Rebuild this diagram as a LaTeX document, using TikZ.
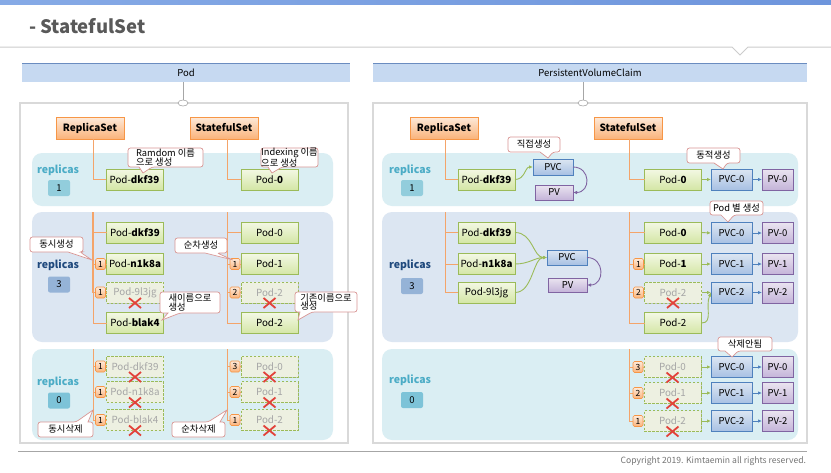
\documentclass[tikz,border=0pt]{standalone}
\usepackage{fontspec}
\setmainfont{Noto Sans CJK KR}
\usetikzlibrary{arrows.meta,shadows,shapes.geometric}
\definecolor{orBd}{HTML}{F79646}
\definecolor{orTop}{HTML}{FDE9D9}
\definecolor{orBot}{HTML}{FAB37A}
\definecolor{grBd}{HTML}{9BBB59}
\definecolor{grTop}{HTML}{F3F8E4}
\definecolor{grBot}{HTML}{D4E6A5}
\definecolor{deadF}{HTML}{EDF0E1}
\definecolor{deadT}{HTML}{A6A6A6}
\definecolor{blBd}{HTML}{4F81BD}
\definecolor{blTop}{HTML}{DCE6F2}
\definecolor{blBot}{HTML}{A7C0E3}
\definecolor{puBd}{HTML}{8064A2}
\definecolor{puTop}{HTML}{EAE4F0}
\definecolor{puBot}{HTML}{C4B4D9}
\definecolor{bandC}{HTML}{DAEEF3}
\definecolor{bandG}{HTML}{DCE6F2}
\definecolor{hdr}{HTML}{C6D9F1}
\definecolor{hdrLine}{HTML}{6A8CC0}
\definecolor{tealC}{HTML}{4BACC6}
\definecolor{navyC}{HTML}{1F497D}
\definecolor{treeC}{HTML}{F4A46A}
\definecolor{callBd}{HTML}{D99694}
\definecolor{xred}{HTML}{E2423A}
\definecolor{panelBd}{HTML}{D9D9D9}
\definecolor{titleC}{HTML}{595959}
\definecolor{cntA}{HTML}{92CDDC}
\definecolor{cntB}{HTML}{95B3D7}
\definecolor{cntC}{HTML}{7DC3D8}
\definecolor{barA}{HTML}{86AAE6}
\definecolor{barB}{HTML}{3D6FD0}
\definecolor{barC}{HTML}{6E95DC}
\newcommand\myfs[2]{\fontsize{#1}{#2}\selectfont}
\newcommand\calB[9]{%
  \filldraw[callout, rounded corners=2.5pt] (#2,#3) -- (#4,#3) -- (#4,#5) -- (#7,#5) [sharp corners] -- (#8) -- (#6,#5) [rounded corners=2.5pt] -- (#2,#5) -- cycle;
  \node[ctext] (#1) at ({(#2+#4)/2},{(#3+#5)/2}) {#9};}
\newcommand\calT[9]{%
  \filldraw[callout, rounded corners=2.5pt] (#2,#5) -- (#2,#3) -- (#6,#3) [sharp corners] -- (#8) -- (#7,#3) [rounded corners=2.5pt] -- (#4,#3) -- (#4,#5) -- cycle;
  \node[ctext] (#1) at ({(#2+#4)/2},{(#3+#5)/2}) {#9};}
\newcommand\xm[1]{\draw[xmk] ([shift={(-6,-5)}]#1.south) -- ([shift={(6,5)}]#1.south);
  \draw[xmk] ([shift={(6,-5)}]#1.south) -- ([shift={(-6,5)}]#1.south);}
\tikzset{
  myshadow/.style={drop shadow={shadow xshift=0.7pt,shadow yshift=-0.7pt,opacity=0.25,fill=black!60}},
  orbox/.style={myshadow, draw=orBd, line width=0.8pt, top color=orTop, bottom color=orBot, minimum width=68pt, minimum height=22pt, font=\bfseries\myfs{10}{12}},
  pod/.style={myshadow, draw=grBd, line width=0.8pt, top color=grTop, bottom color=grBot, minimum width=57pt, minimum height=21pt, font=\myfs{9.8}{10}},
  deadpod/.style={myshadow, draw=grBd, dash pattern=on 2.5pt off 1.5pt, line width=0.8pt, fill=deadF, text=deadT, minimum width=57pt, minimum height=21pt, font=\myfs{9.8}{10}},
  pvcbox/.style={myshadow, draw=blBd, line width=0.8pt, top color=blTop, bottom color=blBot, font=\myfs{9.5}{10}},
  pvbox/.style={myshadow, draw=puBd, line width=0.8pt, top color=puTop, bottom color=puBot, font=\myfs{9.5}{10}},
  badge/.style={draw=orBd, line width=0.6pt, top color=orTop, bottom color=orBot, rounded corners=1.5pt, minimum width=10pt, minimum height=11pt, font=\myfs{8.5}{8}},
  cntbox/.style={rounded corners=2pt, minimum width=22pt, minimum height=16pt, font=\myfs{9.5}{10}},
  reptxt/.style={font=\bfseries\myfs{10.5}{12}},
  tree/.style={draw=treeC, line width=0.9pt},
  garr/.style={draw=grBd, line width=0.9pt, -{Latex[length=4pt,width=3.5pt]}},
  barr/.style={draw=blBd, line width=0.9pt, -{Latex[length=4pt,width=3.5pt]}},
  parr/.style={draw=puBd, line width=0.9pt, -{Latex[length=4pt,width=3.5pt]}},
  xmk/.style={draw=xred, line width=1.8pt},
  callout/.style={draw=callBd, fill=white, line width=0.7pt},
  ctext/.style={font=\myfs{9.3}{8.8}, align=left},
  hdrbox/.style={fill=hdr, minimum height=19pt, font=\myfs{9.5}{11}},
}
\begin{document}
\begin{tikzpicture}[x=1pt,y=-1pt, every node/.style={inner sep=0pt, outer sep=0pt}]
\useasboundingbox (0,0) rectangle (831,472);
\fill[white] (0,0) rectangle (831,472);
% top bar and title
\shade[left color=barA, middle color=barB, right color=barC] (0,0) rectangle (831,4);
\node[anchor=west, font=\bfseries\myfs{18.5}{22}, text=titleC] (ttl) at (29,26) {- StatefulSet};
\draw[black!20, line width=1pt] (0,47) -- (732,47) -- (740,55) -- (748,47) -- (831,47);
% headers
\node[hdrbox, minimum width=328pt] (hL) at (186,72.5) {Pod};
\node[hdrbox, minimum width=434pt] (hR) at (590,72.5) {PersistentVolumeClaim};
\draw[hdrLine, line width=0.8pt] (hL.north west) -- (hL.north east);
\draw[hdrLine, line width=0.8pt] (hR.north west) -- (hR.north east);
% panels
\draw[panelBd, line width=1.5pt, fill=white] (20,103) rectangle (348,443);
\draw[panelBd, line width=1.5pt, fill=white] (373,103) rectangle (807,443);
\node[draw=black!35, fill=white, ellipse, minimum width=10pt, minimum height=6pt, line width=0.6pt] (ciL) at (183,103) {};
\node[draw=black!35, fill=white, ellipse, minimum width=10pt, minimum height=6pt, line width=0.6pt] (ciR) at (583,103) {};
\draw[black!35, line width=0.6pt] (ciL.north) -- (ciL.north |- hL.south);
\draw[black!35, line width=0.6pt] (ciR.north) -- (ciR.north |- hR.south);
% bands
\fill[bandC, rounded corners=10pt] (32,153) rectangle (333,206);
\fill[bandG, rounded corners=10pt] (32,212) rectangle (333,342);
\fill[bandC, rounded corners=10pt] (32,349) rectangle (333,440);
\fill[bandC, rounded corners=10pt] (382,153) rectangle (798,206);
\fill[bandG, rounded corners=10pt] (382,212) rectangle (798,342);
\fill[bandC, rounded corners=10pt] (382,349) rectangle (798,440);
% replicas labels
\node[reptxt, text=tealC] (rpL1) at (58,170) {replicas};
\node[cntbox, fill=cntA] (cL1) at (59,188) {1};
\node[reptxt, text=navyC] (rpL3) at (58,265) {replicas};
\node[cntbox, fill=cntB] (cL3) at (59,284.5) {3};
\node[reptxt, text=tealC] (rpL0) at (58,382) {replicas};
\node[cntbox, fill=cntC] (cL0) at (59,400.5) {0};
\node[reptxt, text=tealC] (rpR1) at (410,170) {replicas};
\node[cntbox, fill=cntA] (cR1) at (412,188) {1};
\node[reptxt, text=navyC] (rpR3) at (410,265) {replicas};
\node[cntbox, fill=cntB] (cR3) at (412,286) {3};
\node[reptxt, text=tealC] (rpR0) at (410,380) {replicas};
\node[cntbox, fill=cntC] (cR0) at (412,400) {0};
% controllers
\node[orbox] (rsL) at (90,128) {ReplicaSet};
\node[orbox] (ssL) at (224,128) {StatefulSet};
\node[orbox] (rsR) at (444,128) {ReplicaSet};
\node[orbox] (ssR) at (628,128) {StatefulSet};
\coordinate (tL) at (93,0);
\coordinate (tR) at (227,0);
\coordinate (uL) at (445,0);
\coordinate (uR) at (629,0);
% ---------- LEFT PANEL ----------
\node[pod] (l1a) at (134.5,179.5) {Pod-\textbf{dkf39}};
\node[pod] (l1b) at (269.5,179.5) {Pod-\textbf{0}};
\node[pod] (l3a) at (135,232.5) {Pod-\textbf{dkf39}};
\node[pod] (l3b) at (135,264) {Pod-\textbf{n1k8a}};
\node[deadpod] (l3c) at (135,292.5) {Pod-9l3jg};
\node[pod] (l3d) at (135,323) {Pod-\textbf{blak4}};
\node[pod] (l3e) at (269.5,232.5) {Pod-0};
\node[pod] (l3f) at (269.5,264) {Pod-1};
\node[deadpod] (l3g) at (269.5,292.5) {Pod-2};
\node[pod] (l3h) at (269.5,323) {Pod-2};
\node[deadpod] (l0a) at (135,366.5) {Pod-dkf39};
\node[deadpod] (l0b) at (135,392) {Pod-n1k8a};
\node[deadpod] (l0c) at (135,420) {Pod-blak4};
\node[deadpod] (l0d) at (269.5,366.5) {Pod-0};
\node[deadpod] (l0e) at (269.5,392) {Pod-1};
\node[deadpod] (l0f) at (269.5,420) {Pod-2};
\coordinate (l3t) at (93,212);
\coordinate (l3u) at (227,212);
\coordinate (l0t) at (93,349);
\coordinate (l0u) at (227,349);
\draw[tree] (rsL.south -| tL) |- (l1a.west);
\draw[tree] (ssL.south -| tR) |- (l1b.west);
\draw[tree, line width=1.4pt] (l3t) -- (l3c.west -| l3t);
\draw[tree] (l3t) |- (l3d.west);
\foreach \n in {l3a,l3b,l3c} \draw[tree] (\n.west -| l3t) -- (\n.west);
\draw[tree] (l3u) |- (l3h.west);
\foreach \n in {l3e,l3f,l3g} \draw[tree] (\n.west -| l3u) -- (\n.west);
\draw[tree] (l0t) |- (l0c.west);
\foreach \n in {l0a,l0b} \draw[tree] (\n.west -| l0t) -- (\n.west);
\draw[tree] (l0u) |- (l0f.west);
\foreach \n in {l0d,l0e} \draw[tree] (\n.west -| l0u) -- (\n.west);
\node[badge] (bl3b) at ([xshift=-6pt]l3b.west) {1};
\node[badge] (bl3c) at ([xshift=-6pt]l3c.west) {1};
\node[badge] (bl3f) at ([xshift=-6pt]l3f.west) {1};
\node[badge] (bl3g) at ([xshift=-6pt]l3g.west) {2};
\node[badge] (bl0a) at ([xshift=-6pt]l0a.west) {1};
\node[badge] (bl0b) at ([xshift=-6pt]l0b.west) {1};
\node[badge] (bl0c) at ([xshift=-6pt]l0c.west) {1};
\node[badge] (bl0d) at ([xshift=-6pt]l0d.west) {3};
\node[badge] (bl0e) at ([xshift=-6pt]l0e.west) {2};
\node[badge] (bl0f) at ([xshift=-6pt]l0f.west) {1};
\xm{l3c} \xm{l3g} \xm{l0a} \xm{l0b} \xm{l0c} \xm{l0d} \xm{l0e} \xm{l0f}
% ---------- RIGHT PANEL ----------
\node[pod] (r1a) at (486.5,179.5) {Pod-\textbf{dkf39}};
\node[pvcbox, minimum width=40pt, minimum height=16pt] (pvcA) at (553,167) {PVC};
\node[pvbox, minimum width=38pt, minimum height=15pt] (pvA) at (554,192.5) {PV};
\node[pod] (r1b) at (673,179.5) {Pod-\textbf{0}};
\node[pvcbox, minimum width=41pt, minimum height=21pt] (q1a) at (731.5,179.5) {PVC-0};
\node[pvbox, minimum width=31pt, minimum height=21pt] (v1a) at (777.5,179.5) {PV-0};
\node[pod] (r3a) at (486.5,232.5) {Pod-\textbf{dkf39}};
\node[pod] (r3b) at (486.5,264) {Pod-\textbf{n1k8a}};
\node[pod] (r3c) at (486.5,292.5) {Pod-9l3jg};
\node[pvcbox, minimum width=40pt, minimum height=15pt] (pvcB) at (567,257.5) {PVC};
\node[pvbox, minimum width=39pt, minimum height=14pt] (pvB) at (567.5,285) {PV};
\node[pod] (r3e) at (673,232.5) {Pod-\textbf{0}};
\node[pod] (r3f) at (673,264) {Pod-\textbf{1}};
\node[deadpod] (r3g) at (673,292.5) {Pod-2};
\node[pod] (r3h) at (673,323) {Pod-2};
\node[pvcbox, minimum width=41pt, minimum height=21pt] (q3a) at (731.5,233) {PVC-0};
\node[pvcbox, minimum width=41pt, minimum height=21pt] (q3b) at (731.5,264) {PVC-1};
\node[pvcbox, minimum width=41pt, minimum height=21pt] (q3c) at (731.5,292.5) {PVC-2};
\node[pvbox, minimum width=31pt, minimum height=21pt] (v3a) at (777.5,233) {PV-0};
\node[pvbox, minimum width=31pt, minimum height=21pt] (v3b) at (777.5,264) {PV-1};
\node[pvbox, minimum width=31pt, minimum height=21pt] (v3c) at (777.5,292.5) {PV-2};
\node[deadpod] (r0a) at (672.5,367) {Pod-0};
\node[deadpod] (r0b) at (672.5,393) {Pod-1};
\node[deadpod] (r0c) at (672.5,421) {Pod-2};
\node[pvcbox, minimum width=41pt, minimum height=21pt] (q0a) at (731.5,367) {PVC-0};
\node[pvcbox, minimum width=41pt, minimum height=21pt] (q0b) at (731.5,393) {PVC-1};
\node[pvcbox, minimum width=41pt, minimum height=21pt] (q0c) at (731.5,421) {PVC-2};
\node[pvbox, minimum width=31pt, minimum height=21pt] (v0a) at (777.5,367) {PV-0};
\node[pvbox, minimum width=31pt, minimum height=21pt] (v0b) at (777.5,393) {PV-1};
\node[pvbox, minimum width=31pt, minimum height=21pt] (v0c) at (777.5,421) {PV-2};
\coordinate (r3t) at (445,212);
\coordinate (r3u) at (629,212);
\coordinate (r0u) at (629,349);
\draw[tree] (rsR.south -| uL) |- (r1a.west);
\draw[tree] (ssR.south -| uR) |- (r1b.west);
\draw[tree] (r3t) |- (r3c.west);
\foreach \n in {r3a,r3b} \draw[tree] (\n.west -| r3t) -- (\n.west);
\draw[tree] (r3u) |- (r3h.west);
\foreach \n in {r3e,r3f,r3g} \draw[tree] (\n.west -| r3u) -- (\n.west);
\draw[tree] (r0u) |- (r0c.west);
\foreach \n in {r0a,r0b} \draw[tree] (\n.west -| r0u) -- (\n.west);
\node[badge] (br3f) at ([xshift=-6pt]r3f.west) {1};
\node[badge] (br3g) at ([xshift=-6pt]r3g.west) {2};
\node[badge] (br0a) at ([xshift=-6pt]r0a.west) {3};
\node[badge] (br0b) at ([xshift=-6pt]r0b.west) {2};
\node[badge] (br0c) at ([xshift=-6pt]r0c.west) {1};
% arrows
\draw[garr] (r1a.east) .. controls +(10,0) and +(-8,0) .. (pvcA.west);
\draw[parr] (pvcA.east) .. controls +(18,0) and +(18,0) .. (pvA.east);
\draw[garr] (r1b.east) -- (q1a.west);
\draw[barr] (q1a.east) -- (v1a.west);
\draw[garr] (r3a.east) .. controls +(18,0) and +(-14,0) .. (pvcB.west);
\draw[garr] (r3b.east) .. controls +(14,0) and +(-12,0) .. (pvcB.west);
\draw[garr] (r3c.east) .. controls +(18,0) and +(-14,0) .. (pvcB.west);
\draw[parr] (pvcB.east) .. controls +(18,0) and +(18,0) .. (pvB.east);
\draw[garr] (r3e.east) -- (q3a.west);
\draw[garr] (r3f.east) -- (q3b.west);
\draw[garr] (r3g.east) -- (q3c.west);
\draw[garr] (r3h.east) .. controls +(12,0) and +(-6,14) .. (q3c.west);
\draw[barr] (q3a.east) -- (v3a.west);
\draw[barr] (q3b.east) -- (v3b.west);
\draw[barr] (q3c.east) -- (v3c.west);
\draw[garr] (r0a.east) -- (q0a.west);
\draw[garr] (r0b.east) -- (q0b.west);
\draw[garr] (r0c.east) -- (q0c.west);
\draw[barr] (q0a.east) -- (v0a.west);
\draw[barr] (q0b.east) -- (v0b.west);
\draw[barr] (q0c.east) -- (v0c.west);
\xm{r3g} \xm{r0a} \xm{r0b} \xm{r0c}
% callouts
\calB{k1}{128}{148}{203}{167}{139}{152}{143,173}{Ramdom 이름\\으로 생성}
\calB{k2}{261}{148}{318}{167}{268}{282}{272,173}{Indexing 이름\\으로 생성}
\calB{k3}{30}{237}{83}{252}{68}{80}{92,260}{동시생성}
\calB{k4}{175}{238}{227}{253}{205}{217}{233,260}{순차생성}
\calB{k5}{160}{292}{220}{313}{168}{180}{162,320}{새이름으로\\생성}
\calB{k6}{295}{292}{357}{312}{300}{312}{298,320}{기존이름으로\\생성}
\calT{k7}{38}{422}{93}{437}{76}{88}{93,410}{동시삭제}
\calT{k8}{172}{422}{225}{437}{208}{220}{227,410}{순차삭제}
\calB{k9}{508}{137}{560}{152}{540}{553}{548,158}{직접생성}
\calB{k10}{687}{148}{740}{163}{714}{727}{723,169}{동적생성}
\calB{k11}{710}{201}{763}{215}{721}{734}{728,222}{Pod 별 생성}
\calB{k12}{718}{337}{772}{351}{725}{738}{732,357}{삭제안됨}
% footer
\draw[black!35, line width=0.8pt] (18,451) -- (807,451);
\node[anchor=east, font=\myfs{8.6}{9}, text=black!55] (cp) at (806,461) {Copyright 2019. Kimtaemin all rights reserved.};
\end{tikzpicture}
\end{document}
